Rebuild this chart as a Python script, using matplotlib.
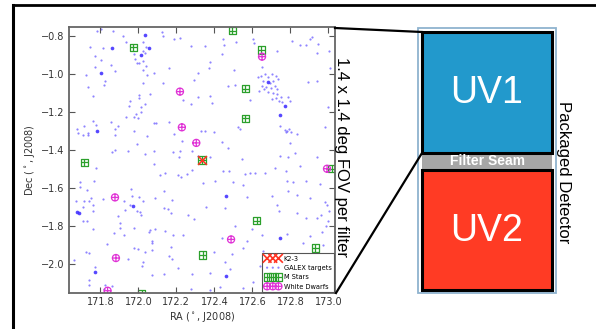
import matplotlib
matplotlib.use('Agg')
import matplotlib.pyplot as plt
from matplotlib.path import Path
from matplotlib.patches import Rectangle
from matplotlib.lines import Line2D

# K2-3 field, positions (deg)
k2_ra = [172.335]
k2_dec = [-1.455]

mstar_ra = [171.973, 172.495, 172.646, 172.563, 172.563, 171.715, 172.335,
            172.340, 172.623, 172.931, 173.017, 172.017]
mstar_dec = [-0.862, -0.775, -0.876, -1.081, -1.235, -1.467, -1.455,
             -1.955, -1.774, -1.918, -1.501, -2.158]

wd_ra = [172.219, 172.229, 172.305, 172.651, 171.877, 171.882, 171.838, 172.488, 172.993]
wd_dec = [-1.095, -1.283, -1.365, -0.911, -1.652, -1.971, -2.143, -1.873, -1.501]

# brighter GALEX sources
galex_bright_ra = [172.036, 171.861, 172.058, 172.015, 171.801, 171.780, 172.681, 172.772,
                   172.745, 171.677, 171.686, 171.973, 171.773, 172.461, 172.745, 172.461]
galex_bright_dec = [-0.795, -0.867, -0.865, -0.900, -0.997, -1.300, -1.046, -1.169,
                    -1.216, -1.730, -1.734, -1.699, -2.046, -1.646, -1.866, -2.067]

# fainter GALEX sources
galex_ra = [
    171.780, 171.803, 171.865, 171.921, 172.124, 172.129, 172.186, 172.219, 171.936, 171.745,
    171.812, 172.026, 172.040, 172.022, 172.036, 171.979, 171.982, 171.994, 172.005, 172.026,
    172.040, 172.022, 172.043, 171.773, 171.803, 171.856, 171.770, 171.879, 171.724, 172.084,
    172.131, 172.026, 172.159, 172.279, 172.294, 172.312, 171.826, 171.817, 171.737, 171.759,
    172.005, 172.063, 171.954, 172.001, 172.035, 171.952, 172.014, 171.987, 172.015, 171.935,
    172.000, 171.977, 172.236, 172.277, 172.314, 171.856, 171.893, 171.879, 171.763, 171.777,
    171.715, 171.675, 171.680, 171.710, 171.735, 171.733, 171.879, 171.977, 172.045, 172.084,
    172.093, 172.159, 172.187, 172.231, 171.991, 171.877, 171.861, 171.945, 172.036, 172.084,
    172.180, 172.219, 172.282, 172.329, 172.215, 172.312,
    # north-east
    172.351, 172.444, 172.451, 172.514, 172.605, 172.610, 172.728, 172.807, 172.851, 172.882,
    172.903, 172.916, 172.947, 172.938, 173.005, 172.377, 172.374, 172.438, 172.505, 172.649,
    173.009, 172.631, 172.645, 172.666, 172.684, 172.702, 172.724, 172.737, 172.658, 172.693,
    172.710, 172.649, 172.672, 172.698, 172.719, 172.731, 172.637, 172.684, 172.707, 172.731,
    172.749, 172.724, 172.742, 172.754, 172.702, 172.661, 172.474, 172.509, 172.377, 172.386,
    172.588, 172.789, 172.798, 172.895, 172.938, 172.996, 172.526, 172.535, 172.398, 172.351,
    172.772, 172.784, 172.795, 172.803, 172.777, 172.745, 172.833, 172.982, 172.798, 172.442,
    172.474, 172.745, 172.824, 172.786, 172.938, 172.544, 172.377,
    # south-west
    171.777, 172.080, 172.115, 172.142, 172.208, 172.224, 172.282, 172.254, 171.693, 171.693,
    171.765, 171.728, 171.672, 171.715, 171.751, 171.742, 171.759, 171.710, 171.763, 171.812,
    171.926, 171.961, 171.966, 172.005, 172.026, 171.931, 171.993, 172.008, 172.014, 171.891,
    171.903, 171.956, 172.089, 172.137, 172.175, 172.137, 172.154, 172.172, 172.294, 172.259,
    171.710, 171.730, 171.759, 171.903, 171.979, 172.061, 172.054, 172.089, 172.138, 172.184,
    172.237, 171.926, 171.870, 172.072, 172.072, 171.833, 171.996, 171.979, 172.037, 172.072,
    172.172, 172.163, 172.177, 172.207, 172.133, 172.072, 172.023, 172.019, 171.947, 172.282,
    171.724, 171.742, 171.663, 171.773, 171.738, 171.738, 171.826, 171.861, 171.821, 172.277,
    # south-east
    172.719, 172.777, 172.851, 172.447, 172.479, 172.561, 172.588, 172.614, 172.667, 172.403,
    172.500, 172.553, 172.784, 172.812, 172.882, 172.956, 172.338, 172.570, 172.702, 172.789,
    172.833, 172.903, 172.995, 172.982, 172.356, 172.456, 172.728, 172.738, 172.837, 172.882,
    172.938, 172.960, 173.003, 172.999, 172.988, 172.596, 172.509, 172.439, 172.574, 172.649,
    172.784, 172.903, 172.965, 172.868, 172.974, 172.398, 172.491, 172.553, 172.658, 172.456,
    172.482, 172.377, 172.640, 172.553, 172.602, 172.377, 172.430,
]
galex_dec = [
    -0.774, -0.767, -0.774, -0.800, -0.781, -0.802, -0.820, -0.813, -0.835, -0.862,
    -0.867, -0.835, -0.862, -0.883, -0.890, -0.897, -0.921, -0.942, -0.946, -0.932,
    -0.958, -0.981, -1.006, -0.906, -0.927, -0.953, -0.967, -0.985, -1.006, -0.995,
    -1.048, -1.051, -0.971, -0.855, -1.034, -0.999, -1.041, -1.060, -1.069, -1.116,
    -1.111, -1.107, -1.146, -1.128, -1.160, -1.172, -1.178, -1.213, -1.204, -1.227,
    -1.235, -1.227, -1.139, -1.160, -1.121, -1.253, -1.274, -1.292, -1.251, -1.269,
    -1.277, -1.292, -1.314, -1.321, -1.311, -1.323, -1.321, -1.300, -1.328, -1.258,
    -1.262, -1.255, -1.318, -1.356, -1.370, -1.400, -1.414, -1.405, -1.423, -1.405,
    -1.411, -1.409, -1.405, -1.300, -1.437, -1.432,
    # north-east
    -0.853, -0.818, -0.848, -0.835, -0.818, -0.841, -0.883, -0.827, -0.848, -0.848,
    -0.818, -0.809, -0.844, -0.893, -0.883, -0.941, -0.971, -0.897, -0.979, -0.967,
    -0.971, -1.020, -1.011, -1.002, -1.020, -1.002, -1.011, -1.028, -1.037, -1.051,
    -1.037, -1.064, -1.072, -1.076, -1.064, -1.081, -1.090, -1.099, -1.104, -1.107,
    -1.121, -1.128, -1.142, -1.151, -1.134, -1.081, -1.064, -1.058, -1.116, -1.157,
    -1.139, -1.125, -1.142, -1.046, -1.037, -1.174, -1.283, -1.292, -1.309, -1.304,
    -1.297, -1.304, -1.292, -1.309, -1.309, -1.274, -1.318, -1.283, -1.367, -1.362,
    -1.392, -1.432, -1.420, -1.437, -1.441, -1.450, -1.441,
    # south-west
    -1.497, -1.476, -1.536, -1.523, -1.532, -1.546, -1.506, -1.527, -1.573, -1.599,
    -1.564, -1.611, -1.673, -1.673, -1.655, -1.669, -1.690, -1.704, -1.722, -1.659,
    -1.669, -1.606, -1.646, -1.652, -1.673, -1.720, -1.725, -1.729, -1.746, -1.752,
    -1.787, -1.690, -1.655, -1.620, -1.664, -1.708, -1.711, -1.734, -1.764, -1.743,
    -1.778, -1.778, -1.818, -1.813, -1.813, -1.822, -1.834, -1.816, -1.827, -1.848,
    -1.848, -1.852, -1.839, -1.880, -1.892, -1.895, -1.922, -1.918, -1.939, -1.927,
    -1.915, -1.962, -1.974, -2.023, -2.055, -2.062, -1.992, -2.015, -1.974, -2.055,
    -1.939, -1.944, -1.980, -2.020, -2.088, -2.111, -2.111, -2.116, -2.132, -2.134,
    # south-east
    -1.497, -1.515, -1.488, -1.515, -1.511, -1.529, -1.523, -1.523, -1.523, -1.567,
    -1.571, -1.585, -1.567, -1.571, -1.567, -1.581, -1.576, -1.652, -1.646, -1.620,
    -1.637, -1.655, -1.690, -1.678, -1.704, -1.708, -1.690, -1.722, -1.734, -1.760,
    -1.760, -1.746, -1.725, -1.778, -1.804, -1.816, -1.804, -1.866, -1.883, -1.852,
    -1.845, -1.857, -1.834, -1.892, -1.904, -1.941, -1.948, -1.918, -1.932, -1.992,
    -2.027, -2.050, -2.011, -2.129, -2.097, -2.138, -2.125,
]

fov_label = '1.4 x 1.4 deg FOV per filter'
filter_names = ['UV1', 'UV2']

# markers: box with a cross, circle with a cross
cross = Path([(-1, 0), (1, 0), (0, -1), (0, 1)],
             [Path.MOVETO, Path.LINETO, Path.MOVETO, Path.LINETO])
square = Path([(-1, -1), (1, -1), (1, 1), (-1, 1), (-1, -1)],
              [Path.MOVETO, Path.LINETO, Path.LINETO, Path.LINETO, Path.CLOSEPOLY])
box_plus = Path.make_compound_path(square, cross)
circ_plus = Path.make_compound_path(Path.unit_circle(), cross)

fig = plt.figure(figsize=(5.96, 3.29), dpi=100)
ax = fig.add_axes([69 / 596, 1 - 293 / 329, 266 / 596, 266 / 329])

h_gal = ax.scatter(galex_ra, galex_dec, s=2.5, color='#4433ff', alpha=0.6, linewidths=0)
ax.scatter(galex_bright_ra, galex_bright_dec, s=7, color='#4433ff', alpha=0.9, linewidths=0)
h_m = ax.scatter(mstar_ra, mstar_dec, s=26, marker=box_plus, facecolors='none',
                 edgecolors='#2ca02c', linewidths=0.9)
h_wd = ax.scatter(wd_ra, wd_dec, s=26, marker=circ_plus, facecolors='none',
                  edgecolors='#e033d6', linewidths=0.9)
h_k2 = ax.scatter(k2_ra, k2_dec, s=40, marker='x', color='#ff3322', linewidths=1.2, zorder=5)

ax.set_xlim(171.635, 173.035)
ax.set_ylim(-2.155, -0.755)
ax.set_xticks([171.8, 172.0, 172.2, 172.4, 172.6, 172.8, 173.0])
ax.set_yticks([-2.0, -1.8, -1.6, -1.4, -1.2, -1.0, -0.8])
ax.tick_params(direction='in', top=True, right=True, length=4, width=0.8,
               labelsize=7, colors='#555555', labelcolor='#333333', pad=3)
for sp in ax.spines.values():
    sp.set_color('#666666')
    sp.set_linewidth(1.3)
ax.set_xlabel('RA ($^\\circ$, J2008)', fontsize=7, color='#333333', labelpad=2)
ax.set_ylabel('Dec ($^\\circ$, J2008)', fontsize=7, color='#333333', labelpad=3)

leg = ax.legend([h_k2, h_gal, h_m, h_wd], ['K2-3', 'GALEX targets', 'M Stars', 'White Dwarfs'],
                loc='lower right', fontsize=4.8, scatterpoints=3, scatteryoffsets=[0.5],
                borderaxespad=0.1, handlelength=2.3, handletextpad=0.5, labelspacing=0.5,
                fancybox=False, framealpha=1, borderpad=0.4)
leg.get_frame().set_edgecolor('#555555')
leg.get_frame().set_linewidth(0.8)

# overlay in pixel units for the detector sketch and frame
ov = fig.add_axes([0, 0, 1, 1], facecolor='none', zorder=10)
ov.set_xlim(0, 596)
ov.set_ylim(329, 0)
ov.axis('off')

ov.add_line(Line2D([13, 596], [5, 5], color='black', lw=2))
ov.add_line(Line2D([13, 13], [5, 329], color='black', lw=2.2))

ov.add_patch(Rectangle((418, 28), 138, 265, facecolor='white', edgecolor='#8fb3cf', lw=1.3))
ov.add_patch(Rectangle((422, 153), 130, 16, facecolor='#a6a6a6', edgecolor='none'))
ov.add_patch(Rectangle((422, 32), 130, 121, facecolor='#2299cc', edgecolor='black', lw=2.2))
ov.add_patch(Rectangle((422, 170), 130, 120, facecolor='#ff3b24', edgecolor='black', lw=2.2))

ov.add_line(Line2D([335, 422], [28, 32], color='black', lw=1.6))
ov.add_line(Line2D([336, 422], [293, 153], color='black', lw=1.6))

sans = ['Liberation Sans', 'DejaVu Sans']
ov.text(487, 93, filter_names[0], color='white', fontsize=27, ha='center', va='center', family=sans)
ov.text(487, 231, filter_names[1], color='white', fontsize=27, ha='center', va='center', family=sans)
ov.text(487, 161, 'Filter Seam', color='white', fontsize=10, fontweight='bold',
        ha='center', va='center', family=sans)
ov.text(341, 157, fov_label, fontsize=12, rotation=270, ha='center', va='center', family=sans)
ov.text(564, 172, 'Packaged Detector', fontsize=12, rotation=270, ha='center', va='center',
        family=sans)

fig.savefig('out.png', dpi=100)
